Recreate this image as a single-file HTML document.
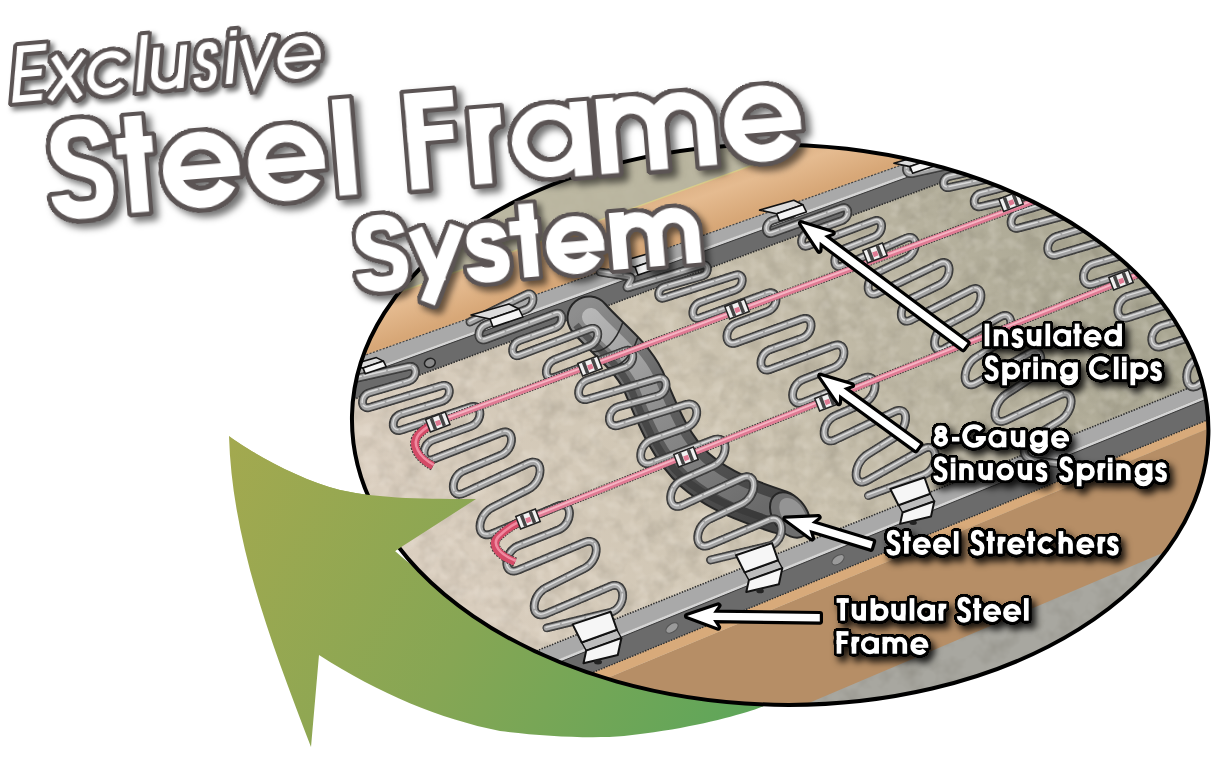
<!DOCTYPE html>
<html><head><meta charset="utf-8"><style>html,body{margin:0;padding:0;background:#fff;font-family:"Liberation Sans",sans-serif;overflow:hidden;}svg{display:block;}</style></head>
<body><svg width="1214" height="775" viewBox="0 0 1214 775">
<defs>
<clipPath id="ec"><ellipse cx="780.2" cy="424.7" rx="428.3" ry="280.1" transform="rotate(1.26 780.2 424.7)"/></clipPath>
<linearGradient id="garrow" x1="230" y1="440" x2="760" y2="720" gradientUnits="userSpaceOnUse">
<stop offset="0" stop-color="#a3a94f"/><stop offset="0.5" stop-color="#86a654"/><stop offset="1" stop-color="#5da65a"/></linearGradient>
<linearGradient id="gmat" x1="420" y1="600" x2="1100" y2="230" gradientUnits="userSpaceOnUse">
<stop offset="0" stop-color="#dbcfc0"/><stop offset="0.45" stop-color="#cdc4b1"/><stop offset="1" stop-color="#a9a692"/></linearGradient>
<linearGradient id="gwood" gradientUnits="userSpaceOnUse" x1="684" y1="184" x2="701" y2="232">
<stop offset="0" stop-color="#dcb084"/><stop offset="0.35" stop-color="#e5bb90"/><stop offset="1" stop-color="#d7a777"/></linearGradient>
<filter id="tex" x="0" y="0" width="100%" height="100%" color-interpolation-filters="sRGB">
 <feTurbulence type="fractalNoise" baseFrequency="0.05" numOctaves="3" seed="7" result="n"/>
 <feColorMatrix in="n" type="matrix" values="0 0 0 0 0.32  0 0 0 0 0.3  0 0 0 0 0.25  0.36 0 0 0 -0.15"/>
</filter>
<filter id="tex2" x="0" y="0" width="100%" height="100%" color-interpolation-filters="sRGB">
 <feTurbulence type="fractalNoise" baseFrequency="0.08" numOctaves="2" seed="3" result="n"/>
 <feColorMatrix in="n" type="matrix" values="0 0 0 0 1  0 0 0 0 0.98  0 0 0 0 0.95  0 0.5 0 0 -0.22"/>
</filter>
<filter id="ttl" filterUnits="userSpaceOnUse" x="-60" y="-160" width="900" height="240" color-interpolation-filters="sRGB">
 <feMorphology in="SourceAlpha" operator="dilate" radius="2.25" result="m0"/>
 <feGaussianBlur in="m0" stdDeviation="1.35" result="bl"/>
 <feComponentTransfer in="bl" result="dil"><feFuncA type="linear" slope="40" intercept="-1.412"/></feComponentTransfer>
 <feFlood flood-color="#5b5454" result="col"/>
 <feComposite in="col" in2="dil" operator="in" result="outl"/>
 <feGaussianBlur in="dil" stdDeviation="3.5" result="blur"/>
 <feOffset in="blur" dx="5" dy="5" result="off"/>
 <feFlood flood-color="#000" flood-opacity="0.55"/>
 <feComposite in2="off" operator="in" result="shad"/>
 <feMerge><feMergeNode in="shad"/><feMergeNode in="outl"/><feMergeNode in="SourceGraphic"/></feMerge>
</filter><filter id="ttl2" filterUnits="userSpaceOnUse" x="-60" y="-140" width="500" height="220" color-interpolation-filters="sRGB">
 <feMorphology in="SourceAlpha" operator="dilate" radius="2.00" result="m0"/>
 <feGaussianBlur in="m0" stdDeviation="1.20" result="bl"/>
 <feComponentTransfer in="bl" result="dil"><feFuncA type="linear" slope="40" intercept="-1.412"/></feComponentTransfer>
 <feFlood flood-color="#5b5454" result="col"/>
 <feComposite in="col" in2="dil" operator="in" result="outl"/>
 <feGaussianBlur in="dil" stdDeviation="3" result="blur"/>
 <feOffset in="blur" dx="4" dy="5" result="off"/>
 <feFlood flood-color="#000" flood-opacity="0.55"/>
 <feComposite in2="off" operator="in" result="shad"/>
 <feMerge><feMergeNode in="shad"/><feMergeNode in="outl"/><feMergeNode in="SourceGraphic"/></feMerge>
</filter><filter id="ttl3" filterUnits="userSpaceOnUse" x="-60" y="-120" width="450" height="180" color-interpolation-filters="sRGB">
 <feMorphology in="SourceAlpha" operator="dilate" radius="1.50" result="m0"/>
 <feGaussianBlur in="m0" stdDeviation="0.90" result="bl"/>
 <feComponentTransfer in="bl" result="dil"><feFuncA type="linear" slope="40" intercept="-1.412"/></feComponentTransfer>
 <feFlood flood-color="#5b5454" result="col"/>
 <feComposite in="col" in2="dil" operator="in" result="outl"/>
 <feGaussianBlur in="dil" stdDeviation="2.5" result="blur"/>
 <feOffset in="blur" dx="4" dy="4" result="off"/>
 <feFlood flood-color="#000" flood-opacity="0.55"/>
 <feComposite in2="off" operator="in" result="shad"/>
 <feMerge><feMergeNode in="shad"/><feMergeNode in="outl"/><feMergeNode in="SourceGraphic"/></feMerge>
</filter><filter id="lbl" filterUnits="userSpaceOnUse" x="780" y="290" width="434" height="400" color-interpolation-filters="sRGB">
 <feMorphology in="SourceAlpha" operator="dilate" radius="1.04" result="m0"/>
 <feGaussianBlur in="m0" stdDeviation="0.94" result="bl"/>
 <feComponentTransfer in="bl" result="dil"><feFuncA type="linear" slope="40" intercept="-1.412"/></feComponentTransfer>
 <feFlood flood-color="#000" result="col"/>
 <feComposite in="col" in2="dil" operator="in" result="outl"/>
 <feGaussianBlur in="dil" stdDeviation="3.5" result="blur"/>
 <feOffset in="blur" dx="4" dy="5" result="off"/>
 <feFlood flood-color="#000" flood-opacity="0.85"/>
 <feComposite in2="off" operator="in" result="shad"/>
 <feMerge><feMergeNode in="shad"/><feMergeNode in="outl"/><feMergeNode in="SourceGraphic"/></feMerge>
</filter></defs><rect width="1214" height="775" fill="#fff"/><path d="M229,436 C250,452 300,480 340,490 C380,499 430,499 476,499 L395,551 C470,620 600,640 760,660 L800,690 C780,700 760,708 747,712 C720,720 680,730 624,736 C590,739 540,736 500,731 C440,719 380,694 319,655 L311,747 C270,640 232,540 229,436 Z" fill="url(#garrow)"/><g clip-path="url(#ec)"><rect x="340" y="130" width="880" height="590" fill="url(#gmat)"/><rect x="340" y="130" width="880" height="590" filter="url(#tex)"/><rect x="340" y="130" width="880" height="590" filter="url(#tex2)"/><polygon points="330.0,100.0 1000.0,100.0 1000.0,76.1 330.0,317.3" fill="#b7b49d" opacity="0.85"/><polygon points="330.0,317.3 1000.0,76.1 1000.0,130.1 330.0,367.7" fill="url(#gwood)"/><line x1="330" y1="317.3" x2="1000" y2="76.1" stroke="#d8cc8a" stroke-width="1.5"/><polygon points="330.0,367.7 1000.0,130.1 1000.0,140.4 330.0,383.9" fill="#a9a9a9"/><polygon points="330.0,383.9 1000.0,140.4 1000.0,160.9 330.0,408.1" fill="#6b6b6b"/><line x1="330" y1="367.7" x2="1000" y2="130.1" stroke="#444" stroke-width="1.2" stroke-dasharray="2 1.5"/><line x1="330" y1="385.4" x2="1000" y2="141.9" stroke="#d4d4d4" stroke-width="3"/><line x1="330" y1="387.1" x2="1000" y2="143.6" stroke="#3a3a3a" stroke-width="1"/><line x1="330" y1="408.1" x2="1000" y2="160.9" stroke="#2a2a2a" stroke-width="1.6" stroke-dasharray="1.4 1.4"/><ellipse cx="429" cy="362" rx="5.5" ry="4.5" fill="#8a8a8a" stroke="#222" stroke-width="1.5" transform="rotate(-20 432 360)"/><polygon points="500.0,722.5 1220.0,423.7 1220.0,800.0 500.0,800.0" fill="#b68e66"/><polygon points="500.0,710.6 1220.0,414.8 1220.0,423.7 500.0,722.5" fill="#d8aa7a"/><polygon points="500.0,833.9 1220.0,528.7 1220.0,800.0 500.0,800.0" fill="#a8a7a0"/><clipPath id="flc"><polygon points="500.0,833.9 1220.0,528.7 1220.0,800.0 500.0,800.0"/></clipPath><g clip-path="url(#flc)"><rect x="780" y="500" width="440" height="250" filter="url(#tex)"/></g><polygon points="500.0,665.6 1220.0,375.4 1220.0,390.4 500.0,683.2" fill="#a9a9a9"/><polygon points="500.0,683.2 1220.0,390.4 1220.0,414.8 500.0,710.6" fill="#6b6b6b"/><line x1="500" y1="684.7" x2="1220" y2="391.9" stroke="#d4d4d4" stroke-width="3"/><line x1="500" y1="686.4" x2="1220" y2="393.6" stroke="#3a3a3a" stroke-width="1"/><line x1="500" y1="665.6" x2="1220" y2="375.4" stroke="#2a2a2a" stroke-width="1.6" stroke-dasharray="1.4 1.4"/><line x1="500" y1="710.6" x2="1220" y2="414.8" stroke="#2a2a2a" stroke-width="1.4" stroke-dasharray="1.4 1.4"/><ellipse cx="672" cy="628.0" rx="4" ry="7" fill="#9a9a9a" stroke="#555" stroke-width="1" transform="rotate(55 672 628.0)"/><ellipse cx="838" cy="559.8" rx="4" ry="7" fill="#9a9a9a" stroke="#555" stroke-width="1" transform="rotate(55 838 559.8)"/><linearGradient id="gt1" gradientUnits="userSpaceOnUse" x1="590" y1="300" x2="760" y2="510"><stop offset="0" stop-color="#8e8e8e"/><stop offset="0.5" stop-color="#5e5e5e"/><stop offset="1" stop-color="#444"/></linearGradient><linearGradient id="gt2" gradientUnits="userSpaceOnUse" x1="590" y1="300" x2="760" y2="510"><stop offset="0" stop-color="#bababa"/><stop offset="0.5" stop-color="#8c8c8c"/><stop offset="1" stop-color="#6a6a6a"/></linearGradient><path d="M589,318 C604,336 630,354 643,380 C656,410 668,445 695,470 C720,492 750,502 780,512" fill="none" stroke="#262626" stroke-width="45" stroke-linecap="round"/><path d="M589,318 C604,336 630,354 643,380 C656,410 668,445 695,470 C720,492 750,502 780,512" fill="none" stroke="url(#gt1)" stroke-width="41" stroke-linecap="round"/><path d="M589,318 C604,336 630,354 643,380 C656,410 668,445 695,470 C720,492 750,502 780,512" fill="none" stroke="url(#gt2)" stroke-width="18" stroke-linecap="round" transform="translate(2,-1)"/><path d="M589,318 C604,336 630,354 643,380 C656,410 668,445 695,470 C720,492 750,502 780,512" fill="none" stroke="#333" stroke-width="7" transform="translate(-13,7)" opacity="0.55"/><path d="M592,352 Q612,352 623,322" fill="none" stroke="#2a2a2a" stroke-width="1.6"/><path d="M607,368 Q628,367 638,337" fill="none" stroke="#2a2a2a" stroke-width="1.6"/><ellipse cx="790" cy="515" rx="17" ry="25" fill="#6e6e6e" stroke="#262626" stroke-width="2" transform="rotate(-35 790 515)"/><ellipse cx="793" cy="514" rx="11" ry="18" fill="#949494" transform="rotate(-35 793 514)"/><g fill="none" stroke-linecap="round" stroke-linejoin="round"><g stroke="#333" stroke-width="8.8" stroke-dasharray="1.6 1.2"><path d="M340.0,382.0 L408.1,366.6 C417.9,364.4 417.8,378.6 408.1,381.4 L369.7,392.6 C360.0,395.4 360.1,410.3 369.7,407.4 L441.6,385.7 C451.9,382.6 451.9,398.3 441.6,401.5 L401.1,413.9 C390.6,417.1 390.6,433.6 401.1,430.1 L470.6,407.0 C483.1,402.9 483.0,421.9 470.6,426.4 L433.2,439.9 C420.8,444.4 420.9,464.1 433.2,459.3 L500.9,432.8 C515.1,427.3 514.9,449.3 500.9,455.2 L463.7,470.8 C449.7,476.7 449.9,499.5 463.7,493.2 L528.1,463.4 C544.2,456.0 543.9,481.4 528.1,489.4 L492.0,507.7 C476.2,515.7 475.7,540.5 492.0,533.7 L558.1,506.0 C573.2,499.6 573.3,524.0 558.1,530.0 L518.2,545.9 C502.9,552.0 503.0,576.4 518.2,570.1 L584.2,542.5 C600.5,535.7 600.0,560.5 584.2,568.5 L546.2,587.7 C530.4,595.7 529.9,620.6 546.2,613.7 L610.1,586.4 C626.4,579.5 627.3,608.2 610.1,612.4 L546.5,628.0"/><path d="M470.0,322.0 L526.1,294.6 C535.1,290.2 535.5,305.8 526.1,309.4 L485.9,324.6 C476.5,328.2 476.5,342.9 485.9,339.4 L555.1,313.7 C564.0,310.3 564.1,324.5 555.1,327.7 L519.7,340.4 C510.2,343.8 510.3,358.7 519.7,355.2 L589.7,328.9 C600.5,324.9 600.5,341.7 589.7,345.9 L554.7,359.6 C543.6,364.0 543.5,381.4 554.7,377.2 L624.9,350.8 C635.3,346.9 635.5,363.6 624.9,367.2 L588.0,379.7 C575.5,384.0 575.4,402.8 588.0,399.1 L657.4,378.5 C668.9,375.1 669.0,393.0 657.4,396.1 L618.5,406.7 C606.3,410.0 606.4,429.0 618.5,425.3 L685.5,404.6 C700.6,400.0 700.4,422.6 685.5,427.8 L651.9,439.6 C636.9,444.9 637.0,468.6 651.9,463.0 L712.9,440.0 C729.4,433.8 729.0,458.8 712.9,466.0 L682.5,479.6 C666.6,486.7 666.7,512.4 682.5,505.2 L741.8,478.0 C757.9,470.6 757.8,496.5 741.8,504.0 L709.8,519.0 C693.8,526.5 693.5,551.9 709.8,545.0 L768.9,520.0 C785.2,513.1 786.1,541.9 768.9,546.0 L710.5,560.0"/><path d="M600.0,272.0 L629.0,276.5 C636.4,277.6 621.8,289.7 629.0,287.5 L702.0,265.1 C709.2,262.9 709.2,274.0 702.0,276.1 L664.0,287.0 C656.8,289.1 656.9,300.3 664.0,298.0 L735.1,275.2 C744.7,272.1 744.6,286.7 735.1,290.0 L700.3,302.2 C690.3,305.7 690.3,321.5 700.3,317.8 L767.4,293.3 C779.0,289.1 779.0,307.1 767.4,311.5 L736.3,323.2 C723.8,327.9 723.8,347.3 736.3,342.8 L801.8,319.0 C814.2,314.6 814.2,334.0 801.8,338.4 L770.4,349.5 C757.7,354.0 757.8,374.0 770.4,369.3 L833.5,345.7 C847.5,340.5 847.4,362.3 833.5,367.7 L803.5,379.3 C788.9,385.0 789.0,408.1 803.5,402.3 L863.2,378.2 C879.1,371.9 878.9,396.5 863.2,403.4 L835.2,415.7 C820.3,422.3 820.5,446.7 835.2,439.7 L894.0,411.8 C910.0,404.2 909.0,428.4 894.0,437.8 L867.5,454.4 C852.5,463.8 852.1,489.0 867.5,480.4 L923.5,449.0 C938.9,440.4 940.1,468.8 923.5,475.0 L868.0,495.7"/><path d="M792.0,214.0 L772.5,220.5 C764.4,223.2 764.4,235.9 772.5,233.1 L841.7,208.1 C849.8,205.3 849.8,217.8 841.7,220.7 L807.9,232.6 C799.4,235.6 799.5,248.9 807.9,245.8 L874.0,221.0 C884.2,217.2 884.1,233.0 874.0,237.0 L842.5,249.6 C832.1,253.7 832.3,270.5 842.5,266.0 L905.9,238.3 C918.6,232.8 918.4,252.7 905.9,258.7 L877.8,272.1 C864.9,278.3 864.9,299.2 877.8,293.1 L939.3,263.6 C952.4,257.3 952.4,278.6 939.3,285.0 L911.0,298.8 C898.0,305.1 898.1,326.5 911.0,320.0 L970.7,289.8 C984.4,282.9 984.3,305.3 970.7,312.4 L944.6,326.1 C931.1,333.2 931.4,356.1 944.6,348.5 L999.7,317.2 C1014.8,308.6 1014.5,333.7 999.7,342.8 L976.5,357.0 C961.4,366.2 961.1,391.7 976.5,383.0 L1029.5,353.0 C1044.9,344.3 1044.3,369.3 1029.5,379.0 L1006.5,394.0 C991.7,403.7 990.5,427.5 1006.5,420.0 L1059.5,395.0 C1075.5,387.5 1074.6,411.8 1059.5,421.0 L1036.5,435.0 C1021.4,444.2 1018.9,458.9 1036.5,461.0 L1062.0,464.0"/><path d="M925.0,160.0 L912.0,162.5 C904.7,163.9 904.7,175.1 912.0,173.5 L984.0,157.8 C991.3,156.2 991.3,167.2 984.0,168.8 L949.0,176.5 C941.7,178.1 941.7,189.1 949.0,187.5 L1021.0,171.8 C1028.3,170.2 1028.2,180.9 1021.0,182.8 L980.7,193.4 C972.0,195.7 972.0,208.6 980.7,206.6 L1051.1,190.3 C1059.0,188.5 1058.9,200.0 1051.1,202.3 L1018.9,212.0 C1008.5,215.1 1008.4,230.9 1018.9,228.0 L1085.1,210.3 C1096.7,207.2 1096.6,224.5 1085.1,227.9 L1056.8,236.3 C1044.7,239.9 1044.7,258.5 1056.8,254.9 L1120.5,235.9 C1133.5,232.0 1133.6,252.2 1120.5,255.9 L1093.3,263.7 C1080.1,267.5 1080.2,288.2 1093.3,283.9 L1154.0,264.1 C1169.8,258.9 1169.9,283.7 1154.0,288.5 L1128.2,296.2 C1114.3,300.4 1114.4,322.1 1128.2,317.6 L1190.3,297.2 C1203.5,292.9 1203.7,313.9 1190.3,317.6 L1162.0,325.5 C1148.3,329.4 1148.4,350.9 1162.0,346.5 L1221.5,326.9 C1238.3,321.4 1238.6,348.4 1221.5,352.9 L1198.5,359.0 C1181.4,363.5 1184.2,395.4 1198.5,385.0 L1260.0,340.0"/></g><g stroke="#454545" stroke-width="7.6"><path d="M340.0,382.0 L408.1,366.6 C417.9,364.4 417.8,378.6 408.1,381.4 L369.7,392.6 C360.0,395.4 360.1,410.3 369.7,407.4 L441.6,385.7 C451.9,382.6 451.9,398.3 441.6,401.5 L401.1,413.9 C390.6,417.1 390.6,433.6 401.1,430.1 L470.6,407.0 C483.1,402.9 483.0,421.9 470.6,426.4 L433.2,439.9 C420.8,444.4 420.9,464.1 433.2,459.3 L500.9,432.8 C515.1,427.3 514.9,449.3 500.9,455.2 L463.7,470.8 C449.7,476.7 449.9,499.5 463.7,493.2 L528.1,463.4 C544.2,456.0 543.9,481.4 528.1,489.4 L492.0,507.7 C476.2,515.7 475.7,540.5 492.0,533.7 L558.1,506.0 C573.2,499.6 573.3,524.0 558.1,530.0 L518.2,545.9 C502.9,552.0 503.0,576.4 518.2,570.1 L584.2,542.5 C600.5,535.7 600.0,560.5 584.2,568.5 L546.2,587.7 C530.4,595.7 529.9,620.6 546.2,613.7 L610.1,586.4 C626.4,579.5 627.3,608.2 610.1,612.4 L546.5,628.0"/><path d="M470.0,322.0 L526.1,294.6 C535.1,290.2 535.5,305.8 526.1,309.4 L485.9,324.6 C476.5,328.2 476.5,342.9 485.9,339.4 L555.1,313.7 C564.0,310.3 564.1,324.5 555.1,327.7 L519.7,340.4 C510.2,343.8 510.3,358.7 519.7,355.2 L589.7,328.9 C600.5,324.9 600.5,341.7 589.7,345.9 L554.7,359.6 C543.6,364.0 543.5,381.4 554.7,377.2 L624.9,350.8 C635.3,346.9 635.5,363.6 624.9,367.2 L588.0,379.7 C575.5,384.0 575.4,402.8 588.0,399.1 L657.4,378.5 C668.9,375.1 669.0,393.0 657.4,396.1 L618.5,406.7 C606.3,410.0 606.4,429.0 618.5,425.3 L685.5,404.6 C700.6,400.0 700.4,422.6 685.5,427.8 L651.9,439.6 C636.9,444.9 637.0,468.6 651.9,463.0 L712.9,440.0 C729.4,433.8 729.0,458.8 712.9,466.0 L682.5,479.6 C666.6,486.7 666.7,512.4 682.5,505.2 L741.8,478.0 C757.9,470.6 757.8,496.5 741.8,504.0 L709.8,519.0 C693.8,526.5 693.5,551.9 709.8,545.0 L768.9,520.0 C785.2,513.1 786.1,541.9 768.9,546.0 L710.5,560.0"/><path d="M600.0,272.0 L629.0,276.5 C636.4,277.6 621.8,289.7 629.0,287.5 L702.0,265.1 C709.2,262.9 709.2,274.0 702.0,276.1 L664.0,287.0 C656.8,289.1 656.9,300.3 664.0,298.0 L735.1,275.2 C744.7,272.1 744.6,286.7 735.1,290.0 L700.3,302.2 C690.3,305.7 690.3,321.5 700.3,317.8 L767.4,293.3 C779.0,289.1 779.0,307.1 767.4,311.5 L736.3,323.2 C723.8,327.9 723.8,347.3 736.3,342.8 L801.8,319.0 C814.2,314.6 814.2,334.0 801.8,338.4 L770.4,349.5 C757.7,354.0 757.8,374.0 770.4,369.3 L833.5,345.7 C847.5,340.5 847.4,362.3 833.5,367.7 L803.5,379.3 C788.9,385.0 789.0,408.1 803.5,402.3 L863.2,378.2 C879.1,371.9 878.9,396.5 863.2,403.4 L835.2,415.7 C820.3,422.3 820.5,446.7 835.2,439.7 L894.0,411.8 C910.0,404.2 909.0,428.4 894.0,437.8 L867.5,454.4 C852.5,463.8 852.1,489.0 867.5,480.4 L923.5,449.0 C938.9,440.4 940.1,468.8 923.5,475.0 L868.0,495.7"/><path d="M792.0,214.0 L772.5,220.5 C764.4,223.2 764.4,235.9 772.5,233.1 L841.7,208.1 C849.8,205.3 849.8,217.8 841.7,220.7 L807.9,232.6 C799.4,235.6 799.5,248.9 807.9,245.8 L874.0,221.0 C884.2,217.2 884.1,233.0 874.0,237.0 L842.5,249.6 C832.1,253.7 832.3,270.5 842.5,266.0 L905.9,238.3 C918.6,232.8 918.4,252.7 905.9,258.7 L877.8,272.1 C864.9,278.3 864.9,299.2 877.8,293.1 L939.3,263.6 C952.4,257.3 952.4,278.6 939.3,285.0 L911.0,298.8 C898.0,305.1 898.1,326.5 911.0,320.0 L970.7,289.8 C984.4,282.9 984.3,305.3 970.7,312.4 L944.6,326.1 C931.1,333.2 931.4,356.1 944.6,348.5 L999.7,317.2 C1014.8,308.6 1014.5,333.7 999.7,342.8 L976.5,357.0 C961.4,366.2 961.1,391.7 976.5,383.0 L1029.5,353.0 C1044.9,344.3 1044.3,369.3 1029.5,379.0 L1006.5,394.0 C991.7,403.7 990.5,427.5 1006.5,420.0 L1059.5,395.0 C1075.5,387.5 1074.6,411.8 1059.5,421.0 L1036.5,435.0 C1021.4,444.2 1018.9,458.9 1036.5,461.0 L1062.0,464.0"/><path d="M925.0,160.0 L912.0,162.5 C904.7,163.9 904.7,175.1 912.0,173.5 L984.0,157.8 C991.3,156.2 991.3,167.2 984.0,168.8 L949.0,176.5 C941.7,178.1 941.7,189.1 949.0,187.5 L1021.0,171.8 C1028.3,170.2 1028.2,180.9 1021.0,182.8 L980.7,193.4 C972.0,195.7 972.0,208.6 980.7,206.6 L1051.1,190.3 C1059.0,188.5 1058.9,200.0 1051.1,202.3 L1018.9,212.0 C1008.5,215.1 1008.4,230.9 1018.9,228.0 L1085.1,210.3 C1096.7,207.2 1096.6,224.5 1085.1,227.9 L1056.8,236.3 C1044.7,239.9 1044.7,258.5 1056.8,254.9 L1120.5,235.9 C1133.5,232.0 1133.6,252.2 1120.5,255.9 L1093.3,263.7 C1080.1,267.5 1080.2,288.2 1093.3,283.9 L1154.0,264.1 C1169.8,258.9 1169.9,283.7 1154.0,288.5 L1128.2,296.2 C1114.3,300.4 1114.4,322.1 1128.2,317.6 L1190.3,297.2 C1203.5,292.9 1203.7,313.9 1190.3,317.6 L1162.0,325.5 C1148.3,329.4 1148.4,350.9 1162.0,346.5 L1221.5,326.9 C1238.3,321.4 1238.6,348.4 1221.5,352.9 L1198.5,359.0 C1181.4,363.5 1184.2,395.4 1198.5,385.0 L1260.0,340.0"/></g><g stroke="#a4a4a4" stroke-width="5.4"><path d="M340.0,382.0 L408.1,366.6 C417.9,364.4 417.8,378.6 408.1,381.4 L369.7,392.6 C360.0,395.4 360.1,410.3 369.7,407.4 L441.6,385.7 C451.9,382.6 451.9,398.3 441.6,401.5 L401.1,413.9 C390.6,417.1 390.6,433.6 401.1,430.1 L470.6,407.0 C483.1,402.9 483.0,421.9 470.6,426.4 L433.2,439.9 C420.8,444.4 420.9,464.1 433.2,459.3 L500.9,432.8 C515.1,427.3 514.9,449.3 500.9,455.2 L463.7,470.8 C449.7,476.7 449.9,499.5 463.7,493.2 L528.1,463.4 C544.2,456.0 543.9,481.4 528.1,489.4 L492.0,507.7 C476.2,515.7 475.7,540.5 492.0,533.7 L558.1,506.0 C573.2,499.6 573.3,524.0 558.1,530.0 L518.2,545.9 C502.9,552.0 503.0,576.4 518.2,570.1 L584.2,542.5 C600.5,535.7 600.0,560.5 584.2,568.5 L546.2,587.7 C530.4,595.7 529.9,620.6 546.2,613.7 L610.1,586.4 C626.4,579.5 627.3,608.2 610.1,612.4 L546.5,628.0"/><path d="M470.0,322.0 L526.1,294.6 C535.1,290.2 535.5,305.8 526.1,309.4 L485.9,324.6 C476.5,328.2 476.5,342.9 485.9,339.4 L555.1,313.7 C564.0,310.3 564.1,324.5 555.1,327.7 L519.7,340.4 C510.2,343.8 510.3,358.7 519.7,355.2 L589.7,328.9 C600.5,324.9 600.5,341.7 589.7,345.9 L554.7,359.6 C543.6,364.0 543.5,381.4 554.7,377.2 L624.9,350.8 C635.3,346.9 635.5,363.6 624.9,367.2 L588.0,379.7 C575.5,384.0 575.4,402.8 588.0,399.1 L657.4,378.5 C668.9,375.1 669.0,393.0 657.4,396.1 L618.5,406.7 C606.3,410.0 606.4,429.0 618.5,425.3 L685.5,404.6 C700.6,400.0 700.4,422.6 685.5,427.8 L651.9,439.6 C636.9,444.9 637.0,468.6 651.9,463.0 L712.9,440.0 C729.4,433.8 729.0,458.8 712.9,466.0 L682.5,479.6 C666.6,486.7 666.7,512.4 682.5,505.2 L741.8,478.0 C757.9,470.6 757.8,496.5 741.8,504.0 L709.8,519.0 C693.8,526.5 693.5,551.9 709.8,545.0 L768.9,520.0 C785.2,513.1 786.1,541.9 768.9,546.0 L710.5,560.0"/><path d="M600.0,272.0 L629.0,276.5 C636.4,277.6 621.8,289.7 629.0,287.5 L702.0,265.1 C709.2,262.9 709.2,274.0 702.0,276.1 L664.0,287.0 C656.8,289.1 656.9,300.3 664.0,298.0 L735.1,275.2 C744.7,272.1 744.6,286.7 735.1,290.0 L700.3,302.2 C690.3,305.7 690.3,321.5 700.3,317.8 L767.4,293.3 C779.0,289.1 779.0,307.1 767.4,311.5 L736.3,323.2 C723.8,327.9 723.8,347.3 736.3,342.8 L801.8,319.0 C814.2,314.6 814.2,334.0 801.8,338.4 L770.4,349.5 C757.7,354.0 757.8,374.0 770.4,369.3 L833.5,345.7 C847.5,340.5 847.4,362.3 833.5,367.7 L803.5,379.3 C788.9,385.0 789.0,408.1 803.5,402.3 L863.2,378.2 C879.1,371.9 878.9,396.5 863.2,403.4 L835.2,415.7 C820.3,422.3 820.5,446.7 835.2,439.7 L894.0,411.8 C910.0,404.2 909.0,428.4 894.0,437.8 L867.5,454.4 C852.5,463.8 852.1,489.0 867.5,480.4 L923.5,449.0 C938.9,440.4 940.1,468.8 923.5,475.0 L868.0,495.7"/><path d="M792.0,214.0 L772.5,220.5 C764.4,223.2 764.4,235.9 772.5,233.1 L841.7,208.1 C849.8,205.3 849.8,217.8 841.7,220.7 L807.9,232.6 C799.4,235.6 799.5,248.9 807.9,245.8 L874.0,221.0 C884.2,217.2 884.1,233.0 874.0,237.0 L842.5,249.6 C832.1,253.7 832.3,270.5 842.5,266.0 L905.9,238.3 C918.6,232.8 918.4,252.7 905.9,258.7 L877.8,272.1 C864.9,278.3 864.9,299.2 877.8,293.1 L939.3,263.6 C952.4,257.3 952.4,278.6 939.3,285.0 L911.0,298.8 C898.0,305.1 898.1,326.5 911.0,320.0 L970.7,289.8 C984.4,282.9 984.3,305.3 970.7,312.4 L944.6,326.1 C931.1,333.2 931.4,356.1 944.6,348.5 L999.7,317.2 C1014.8,308.6 1014.5,333.7 999.7,342.8 L976.5,357.0 C961.4,366.2 961.1,391.7 976.5,383.0 L1029.5,353.0 C1044.9,344.3 1044.3,369.3 1029.5,379.0 L1006.5,394.0 C991.7,403.7 990.5,427.5 1006.5,420.0 L1059.5,395.0 C1075.5,387.5 1074.6,411.8 1059.5,421.0 L1036.5,435.0 C1021.4,444.2 1018.9,458.9 1036.5,461.0 L1062.0,464.0"/><path d="M925.0,160.0 L912.0,162.5 C904.7,163.9 904.7,175.1 912.0,173.5 L984.0,157.8 C991.3,156.2 991.3,167.2 984.0,168.8 L949.0,176.5 C941.7,178.1 941.7,189.1 949.0,187.5 L1021.0,171.8 C1028.3,170.2 1028.2,180.9 1021.0,182.8 L980.7,193.4 C972.0,195.7 972.0,208.6 980.7,206.6 L1051.1,190.3 C1059.0,188.5 1058.9,200.0 1051.1,202.3 L1018.9,212.0 C1008.5,215.1 1008.4,230.9 1018.9,228.0 L1085.1,210.3 C1096.7,207.2 1096.6,224.5 1085.1,227.9 L1056.8,236.3 C1044.7,239.9 1044.7,258.5 1056.8,254.9 L1120.5,235.9 C1133.5,232.0 1133.6,252.2 1120.5,255.9 L1093.3,263.7 C1080.1,267.5 1080.2,288.2 1093.3,283.9 L1154.0,264.1 C1169.8,258.9 1169.9,283.7 1154.0,288.5 L1128.2,296.2 C1114.3,300.4 1114.4,322.1 1128.2,317.6 L1190.3,297.2 C1203.5,292.9 1203.7,313.9 1190.3,317.6 L1162.0,325.5 C1148.3,329.4 1148.4,350.9 1162.0,346.5 L1221.5,326.9 C1238.3,321.4 1238.6,348.4 1221.5,352.9 L1198.5,359.0 C1181.4,363.5 1184.2,395.4 1198.5,385.0 L1260.0,340.0"/></g><g stroke="#dadada" stroke-width="1.5" stroke-dasharray="22 3" transform="translate(-0.3,-0.8)"><path d="M340.0,382.0 L408.1,366.6 C417.9,364.4 417.8,378.6 408.1,381.4 L369.7,392.6 C360.0,395.4 360.1,410.3 369.7,407.4 L441.6,385.7 C451.9,382.6 451.9,398.3 441.6,401.5 L401.1,413.9 C390.6,417.1 390.6,433.6 401.1,430.1 L470.6,407.0 C483.1,402.9 483.0,421.9 470.6,426.4 L433.2,439.9 C420.8,444.4 420.9,464.1 433.2,459.3 L500.9,432.8 C515.1,427.3 514.9,449.3 500.9,455.2 L463.7,470.8 C449.7,476.7 449.9,499.5 463.7,493.2 L528.1,463.4 C544.2,456.0 543.9,481.4 528.1,489.4 L492.0,507.7 C476.2,515.7 475.7,540.5 492.0,533.7 L558.1,506.0 C573.2,499.6 573.3,524.0 558.1,530.0 L518.2,545.9 C502.9,552.0 503.0,576.4 518.2,570.1 L584.2,542.5 C600.5,535.7 600.0,560.5 584.2,568.5 L546.2,587.7 C530.4,595.7 529.9,620.6 546.2,613.7 L610.1,586.4 C626.4,579.5 627.3,608.2 610.1,612.4 L546.5,628.0"/><path d="M470.0,322.0 L526.1,294.6 C535.1,290.2 535.5,305.8 526.1,309.4 L485.9,324.6 C476.5,328.2 476.5,342.9 485.9,339.4 L555.1,313.7 C564.0,310.3 564.1,324.5 555.1,327.7 L519.7,340.4 C510.2,343.8 510.3,358.7 519.7,355.2 L589.7,328.9 C600.5,324.9 600.5,341.7 589.7,345.9 L554.7,359.6 C543.6,364.0 543.5,381.4 554.7,377.2 L624.9,350.8 C635.3,346.9 635.5,363.6 624.9,367.2 L588.0,379.7 C575.5,384.0 575.4,402.8 588.0,399.1 L657.4,378.5 C668.9,375.1 669.0,393.0 657.4,396.1 L618.5,406.7 C606.3,410.0 606.4,429.0 618.5,425.3 L685.5,404.6 C700.6,400.0 700.4,422.6 685.5,427.8 L651.9,439.6 C636.9,444.9 637.0,468.6 651.9,463.0 L712.9,440.0 C729.4,433.8 729.0,458.8 712.9,466.0 L682.5,479.6 C666.6,486.7 666.7,512.4 682.5,505.2 L741.8,478.0 C757.9,470.6 757.8,496.5 741.8,504.0 L709.8,519.0 C693.8,526.5 693.5,551.9 709.8,545.0 L768.9,520.0 C785.2,513.1 786.1,541.9 768.9,546.0 L710.5,560.0"/><path d="M600.0,272.0 L629.0,276.5 C636.4,277.6 621.8,289.7 629.0,287.5 L702.0,265.1 C709.2,262.9 709.2,274.0 702.0,276.1 L664.0,287.0 C656.8,289.1 656.9,300.3 664.0,298.0 L735.1,275.2 C744.7,272.1 744.6,286.7 735.1,290.0 L700.3,302.2 C690.3,305.7 690.3,321.5 700.3,317.8 L767.4,293.3 C779.0,289.1 779.0,307.1 767.4,311.5 L736.3,323.2 C723.8,327.9 723.8,347.3 736.3,342.8 L801.8,319.0 C814.2,314.6 814.2,334.0 801.8,338.4 L770.4,349.5 C757.7,354.0 757.8,374.0 770.4,369.3 L833.5,345.7 C847.5,340.5 847.4,362.3 833.5,367.7 L803.5,379.3 C788.9,385.0 789.0,408.1 803.5,402.3 L863.2,378.2 C879.1,371.9 878.9,396.5 863.2,403.4 L835.2,415.7 C820.3,422.3 820.5,446.7 835.2,439.7 L894.0,411.8 C910.0,404.2 909.0,428.4 894.0,437.8 L867.5,454.4 C852.5,463.8 852.1,489.0 867.5,480.4 L923.5,449.0 C938.9,440.4 940.1,468.8 923.5,475.0 L868.0,495.7"/><path d="M792.0,214.0 L772.5,220.5 C764.4,223.2 764.4,235.9 772.5,233.1 L841.7,208.1 C849.8,205.3 849.8,217.8 841.7,220.7 L807.9,232.6 C799.4,235.6 799.5,248.9 807.9,245.8 L874.0,221.0 C884.2,217.2 884.1,233.0 874.0,237.0 L842.5,249.6 C832.1,253.7 832.3,270.5 842.5,266.0 L905.9,238.3 C918.6,232.8 918.4,252.7 905.9,258.7 L877.8,272.1 C864.9,278.3 864.9,299.2 877.8,293.1 L939.3,263.6 C952.4,257.3 952.4,278.6 939.3,285.0 L911.0,298.8 C898.0,305.1 898.1,326.5 911.0,320.0 L970.7,289.8 C984.4,282.9 984.3,305.3 970.7,312.4 L944.6,326.1 C931.1,333.2 931.4,356.1 944.6,348.5 L999.7,317.2 C1014.8,308.6 1014.5,333.7 999.7,342.8 L976.5,357.0 C961.4,366.2 961.1,391.7 976.5,383.0 L1029.5,353.0 C1044.9,344.3 1044.3,369.3 1029.5,379.0 L1006.5,394.0 C991.7,403.7 990.5,427.5 1006.5,420.0 L1059.5,395.0 C1075.5,387.5 1074.6,411.8 1059.5,421.0 L1036.5,435.0 C1021.4,444.2 1018.9,458.9 1036.5,461.0 L1062.0,464.0"/><path d="M925.0,160.0 L912.0,162.5 C904.7,163.9 904.7,175.1 912.0,173.5 L984.0,157.8 C991.3,156.2 991.3,167.2 984.0,168.8 L949.0,176.5 C941.7,178.1 941.7,189.1 949.0,187.5 L1021.0,171.8 C1028.3,170.2 1028.2,180.9 1021.0,182.8 L980.7,193.4 C972.0,195.7 972.0,208.6 980.7,206.6 L1051.1,190.3 C1059.0,188.5 1058.9,200.0 1051.1,202.3 L1018.9,212.0 C1008.5,215.1 1008.4,230.9 1018.9,228.0 L1085.1,210.3 C1096.7,207.2 1096.6,224.5 1085.1,227.9 L1056.8,236.3 C1044.7,239.9 1044.7,258.5 1056.8,254.9 L1120.5,235.9 C1133.5,232.0 1133.6,252.2 1120.5,255.9 L1093.3,263.7 C1080.1,267.5 1080.2,288.2 1093.3,283.9 L1154.0,264.1 C1169.8,258.9 1169.9,283.7 1154.0,288.5 L1128.2,296.2 C1114.3,300.4 1114.4,322.1 1128.2,317.6 L1190.3,297.2 C1203.5,292.9 1203.7,313.9 1190.3,317.6 L1162.0,325.5 C1148.3,329.4 1148.4,350.9 1162.0,346.5 L1221.5,326.9 C1238.3,321.4 1238.6,348.4 1221.5,352.9 L1198.5,359.0 C1181.4,363.5 1184.2,395.4 1198.5,385.0 L1260.0,340.0"/></g></g><path d="M433,466 C418,458 410,445 418,435 C425,428 432,424 438,422 L1250,121" fill="none" stroke="#3a3a3a" stroke-width="7.6" stroke-dasharray="1.6 1.2"/><path d="M433,466 C418,458 410,445 418,435 C425,428 432,424 438,422 L1250,121" fill="none" stroke="#e07a93" stroke-width="5.8"/><path d="M433,466 C418,458 410,445 418,435 C425,428 432,424 438,422 L1250,121" fill="none" stroke="#f5b4c3" stroke-width="2" transform="translate(0,-0.8)"/><path d="M515,562 C498,555 490,545 498,537 C505,530 515,523 528,519 L1250,230" fill="none" stroke="#3a3a3a" stroke-width="7.6" stroke-dasharray="1.6 1.2"/><path d="M515,562 C498,555 490,545 498,537 C505,530 515,523 528,519 L1250,230" fill="none" stroke="#e07a93" stroke-width="5.8"/><path d="M515,562 C498,555 490,545 498,537 C505,530 515,523 528,519 L1250,230" fill="none" stroke="#f5b4c3" stroke-width="2" transform="translate(0,-0.8)"/><path d="M433,466 C418,458 410,445 418,435 C425,428 432,424 438,422" fill="none" stroke="#3a3a3a" stroke-width="9.5" stroke-dasharray="1.6 1.2"/><path d="M433,466 C418,458 410,445 418,435 C425,428 432,424 438,422" fill="none" stroke="#d44a66" stroke-width="7.8"/><path d="M433,466 C418,458 410,445 418,435 C425,428 432,424 438,422" fill="none" stroke="#f08aa0" stroke-width="2.5" transform="translate(1,-1)"/><path d="M515,562 C498,555 490,545 498,537 C505,530 515,523 528,519" fill="none" stroke="#3a3a3a" stroke-width="9.5" stroke-dasharray="1.6 1.2"/><path d="M515,562 C498,555 490,545 498,537 C505,530 515,523 528,519" fill="none" stroke="#d44a66" stroke-width="7.8"/><path d="M515,562 C498,555 490,545 498,537 C505,530 515,523 528,519" fill="none" stroke="#f08aa0" stroke-width="2.5" transform="translate(1,-1)"/><g transform="translate(437.8,422) rotate(-21)"><rect x="-10.5" y="-6.75" width="21" height="13.5" fill="#f0f0f0" stroke="#222" stroke-width="1.5"/><rect x="-6.5" y="-5.95" width="3.5" height="11.9" fill="#444"/><rect x="3.0" y="-5.95" width="3.5" height="11.9" fill="#444"/><rect x="-2.5" y="-1.5" width="5" height="5" fill="#e07a93"/></g><g transform="translate(528,519) rotate(-21)"><rect x="-10.5" y="-6.75" width="21" height="13.5" fill="#f0f0f0" stroke="#222" stroke-width="1.5"/><rect x="-6.5" y="-5.95" width="3.5" height="11.9" fill="#444"/><rect x="3.0" y="-5.95" width="3.5" height="11.9" fill="#444"/><rect x="-2.5" y="-1.5" width="5" height="5" fill="#e07a93"/></g><g transform="translate(590,366) rotate(-21)"><rect x="-10.5" y="-6.75" width="21" height="13.5" fill="#f0f0f0" stroke="#222" stroke-width="1.5"/><rect x="-6.5" y="-5.95" width="3.5" height="11.9" fill="#444"/><rect x="3.0" y="-5.95" width="3.5" height="11.9" fill="#444"/><rect x="-2.5" y="-1.5" width="5" height="5" fill="#e07a93"/></g><g transform="translate(686,457) rotate(-21)"><rect x="-10.5" y="-6.75" width="21" height="13.5" fill="#f0f0f0" stroke="#222" stroke-width="1.5"/><rect x="-6.5" y="-5.95" width="3.5" height="11.9" fill="#444"/><rect x="3.0" y="-5.95" width="3.5" height="11.9" fill="#444"/><rect x="-2.5" y="-1.5" width="5" height="5" fill="#e07a93"/></g><g transform="translate(737,309) rotate(-21)"><rect x="-10.5" y="-6.75" width="21" height="13.5" fill="#f0f0f0" stroke="#222" stroke-width="1.5"/><rect x="-6.5" y="-5.95" width="3.5" height="11.9" fill="#444"/><rect x="3.0" y="-5.95" width="3.5" height="11.9" fill="#444"/><rect x="-2.5" y="-1.5" width="5" height="5" fill="#e07a93"/></g><g transform="translate(827,401) rotate(-21)"><rect x="-10.5" y="-6.75" width="21" height="13.5" fill="#f0f0f0" stroke="#222" stroke-width="1.5"/><rect x="-6.5" y="-5.95" width="3.5" height="11.9" fill="#444"/><rect x="3.0" y="-5.95" width="3.5" height="11.9" fill="#444"/><rect x="-2.5" y="-1.5" width="5" height="5" fill="#e07a93"/></g><g transform="translate(875,253) rotate(-21)"><rect x="-10.5" y="-6.75" width="21" height="13.5" fill="#f0f0f0" stroke="#222" stroke-width="1.5"/><rect x="-6.5" y="-5.95" width="3.5" height="11.9" fill="#444"/><rect x="3.0" y="-5.95" width="3.5" height="11.9" fill="#444"/><rect x="-2.5" y="-1.5" width="5" height="5" fill="#e07a93"/></g><g transform="translate(1011,201.5) rotate(-21)"><rect x="-10.5" y="-6.75" width="21" height="13.5" fill="#f0f0f0" stroke="#222" stroke-width="1.5"/><rect x="-6.5" y="-5.95" width="3.5" height="11.9" fill="#444"/><rect x="3.0" y="-5.95" width="3.5" height="11.9" fill="#444"/><rect x="-2.5" y="-1.5" width="5" height="5" fill="#e07a93"/></g><g transform="translate(1121,280) rotate(-21)"><rect x="-10.5" y="-6.75" width="21" height="13.5" fill="#f0f0f0" stroke="#222" stroke-width="1.5"/><rect x="-6.5" y="-5.95" width="3.5" height="11.9" fill="#444"/><rect x="3.0" y="-5.95" width="3.5" height="11.9" fill="#444"/><rect x="-2.5" y="-1.5" width="5" height="5" fill="#e07a93"/></g><polygon points="471.0,315.0 509.0,304.0 519.0,309.0 490.0,319.0" fill="#dcdcdc" stroke="#111" stroke-width="1.6" stroke-linejoin="round"/><polygon points="490.0,319.0 519.0,309.0 523.0,317.0 493.0,327.0" fill="#f6f6f6" stroke="#111" stroke-width="1.6" stroke-linejoin="round"/><polygon points="759.6,210.1 793.8,200.2 802.8,204.7 776.7,213.7" fill="#dcdcdc" stroke="#111" stroke-width="1.6" stroke-linejoin="round"/><polygon points="776.7,213.7 802.8,204.7 806.4,211.9 779.4,220.9" fill="#f6f6f6" stroke="#111" stroke-width="1.6" stroke-linejoin="round"/><polygon points="893.9,163.2 926.2,153.8 934.7,158.1 910.0,166.6" fill="#dcdcdc" stroke="#111" stroke-width="1.6" stroke-linejoin="round"/><polygon points="910.0,166.6 934.7,158.1 938.1,164.8 912.6,173.3" fill="#f6f6f6" stroke="#111" stroke-width="1.6" stroke-linejoin="round"/><polygon points="349.8,365.3 376.4,357.6 383.4,361.1 363.1,368.1" fill="#dcdcdc" stroke="#111" stroke-width="1.6" stroke-linejoin="round"/><polygon points="363.1,368.1 383.4,361.1 386.2,366.7 365.2,373.7" fill="#f6f6f6" stroke="#111" stroke-width="1.6" stroke-linejoin="round"/><polygon points="616.0,263.0 654.0,252.0 664.0,257.0 635.0,267.0" fill="#dcdcdc" stroke="#111" stroke-width="1.6" stroke-linejoin="round"/><polygon points="635.0,267.0 664.0,257.0 668.0,265.0 638.0,275.0" fill="#f6f6f6" stroke="#111" stroke-width="1.6" stroke-linejoin="round"/><polygon points="581.7,642.5 617.0,629.8 621.4,638.0 586.2,650.6" fill="#bdbdbd" stroke="#111" stroke-width="1.4"/><polygon points="572.6,624.4 610.6,611.7 617.0,629.8 581.7,642.5" fill="#f6f6f6" stroke="#111" stroke-width="2" stroke-linejoin="round"/><polygon points="586.2,650.6 621.4,638.0 617.8,655.0 583.5,663.2" fill="#f6f6f6" stroke="#111" stroke-width="2" stroke-linejoin="round"/><ellipse cx="598.0" cy="662.0" rx="4.0" ry="2.5" fill="#222"/><polygon points="744.6,572.4 778.1,560.3 782.3,568.1 748.9,580.1" fill="#bdbdbd" stroke="#111" stroke-width="1.4"/><polygon points="736.0,555.2 772.1,543.1 778.1,560.3 744.6,572.4" fill="#f6f6f6" stroke="#111" stroke-width="2" stroke-linejoin="round"/><polygon points="748.9,580.1 782.3,568.1 778.9,584.2 746.3,592.0" fill="#f6f6f6" stroke="#111" stroke-width="2" stroke-linejoin="round"/><ellipse cx="760.1" cy="590.9" rx="3.8" ry="2.4" fill="#222"/><polygon points="898.5,505.2 930.3,493.8 934.3,501.2 902.6,512.5" fill="#bdbdbd" stroke="#111" stroke-width="1.4"/><polygon points="890.3,489.0 924.5,477.5 930.3,493.8 898.5,505.2" fill="#f6f6f6" stroke="#111" stroke-width="2" stroke-linejoin="round"/><polygon points="902.6,512.5 934.3,501.2 931.0,516.5 900.1,523.9" fill="#f6f6f6" stroke="#111" stroke-width="2" stroke-linejoin="round"/><ellipse cx="913.2" cy="522.8" rx="3.6" ry="2.2" fill="#222"/></g><ellipse cx="780.2" cy="424.7" rx="428.3" ry="280.1" transform="rotate(1.26 780.2 424.7)" fill="none" stroke="#000" stroke-width="4"/><path d="M229,436 C250,452 300,480 340,490 C380,499 430,499 476,499 L395,551 L340,560 Z" fill="url(#garrow)"/><polygon points="801.1,223.3 819.3,250.6 819.7,241.8 963.0,349.0 967.5,343.1 824.1,235.9 832.5,233.0" fill="#fff" stroke="#000" stroke-width="6.4" stroke-linejoin="round" paint-order="stroke"/><polygon points="820.3,375.9 838.8,403.0 839.1,394.2 915.7,450.1 920.1,444.1 843.4,388.2 851.8,385.3" fill="#fff" stroke="#000" stroke-width="6.4" stroke-linejoin="round" paint-order="stroke"/><polygon points="785.5,518.7 811.9,538.3 809.3,529.8 870.9,548.6 873.0,541.5 811.5,522.7 818.4,517.2" fill="#fff" stroke="#000" stroke-width="6.4" stroke-linejoin="round" paint-order="stroke"/><polygon points="687.2,616.1 718.0,627.5 713.1,620.1 819.8,621.5 819.8,614.1 713.2,612.7 718.3,605.5" fill="#fff" stroke="#000" stroke-width="6.4" stroke-linejoin="round" paint-order="stroke"/><g transform="" filter="url(#lbl)"><g fill="none" stroke="#fff" stroke-linecap="butt" stroke-linejoin="miter" stroke-miterlimit="10"><path d="M987.0,346.2 V323.6" stroke-width="4.7"/><path d="M996.1,346.2 V329.3" stroke-width="4.7"/><path d="M996.1,336.4 A4.8,4.8 0 0 1 1005.7,336.4 V346.2" stroke-width="4.7"/><path d="M1020.9,334.0 C1020.5,331.5 1019.6,330.6 1017.5,330.6 C1015.2,330.6 1014.2,331.9 1014.2,334.3 C1014.2,336.1 1015.7,337.3 1017.5,337.9 C1019.6,338.7 1021.0,339.5 1021.0,341.7 C1021.0,345.2 1019.8,345.8 1017.5,345.8 C1015.0,345.8 1013.7,344.3 1013.7,342.8" stroke-width="4.7"/><path d="M1029.2,329.3 V339.0 A4.8,4.8 0 0 0 1038.9,339.0 V329.3" stroke-width="4.7"/><path d="M1038.9,329.3 V346.2" stroke-width="4.7"/><path d="M1047.8,346.2 V323.6" stroke-width="4.7"/><path d="M1068.9,337.7 A6.9,6.9 0 0 0 1055.1,337.7 A6.9,6.9 0 0 0 1068.9,337.7 Z" stroke-width="4.2"/><path d="M1068.7,346.2 V330.3" stroke-width="4.7"/><path d="M1077.1,346.2 V323.6" stroke-width="4.7"/><path d="M1073.3,331.4 H1081.5" stroke-width="4.3"/><path d="M1099.1,338.2 A6.6,6.6 0 0 0 1085.9,338.2 A6.6,6.6 0 0 0 1097.5,342.5" stroke-width="4.7"/><path d="M1085.9,338.7 H1101.4" stroke-width="3.3"/><path d="M1119.2,337.7 A6.4,6.4 0 0 0 1106.4,337.7 A6.4,6.4 0 0 0 1119.2,337.7 Z" stroke-width="4.7"/><path d="M1119.6,346.2 V323.6" stroke-width="4.7"/></g></g><g transform="" filter="url(#lbl)"><g fill="none" stroke="#fff" stroke-linecap="butt" stroke-linejoin="miter" stroke-miterlimit="10"><path d="M996.1,362.2 C995.5,358.8 994.4,357.5 991.6,357.5 C988.6,357.5 987.3,359.2 987.3,362.6 C987.3,365.2 989.3,366.9 991.6,367.7 C994.4,368.8 996.3,369.9 996.3,373.1 C996.3,378.0 994.6,378.8 991.6,378.8 C988.4,378.8 986.8,376.7 986.7,374.6" stroke-width="4.7"/><path d="M1017.9,370.7 A6.4,6.4 0 0 0 1005.1,370.7 A6.4,6.4 0 0 0 1017.9,370.7 Z" stroke-width="4.7"/><path d="M1004.6,385.3 V362.3" stroke-width="4.7"/><path d="M1025.5,379.2 V362.3" stroke-width="4.7"/><path d="M1025.5,371.9 A5.3,5.3 0 0 1 1030.8,364.6" stroke-width="4.7"/><path d="M1024.2,364.6 H1029.2" stroke-width="4.7"/><path d="M1035.6,379.2 V362.3" stroke-width="4.7"/><path d="M1035.6,361.4 V356.6" stroke-width="4.7"/><path d="M1044.1,379.2 V362.3" stroke-width="4.7"/><path d="M1044.1,369.4 A4.8,4.8 0 0 1 1053.7,369.4 V379.2" stroke-width="4.7"/><path d="M1075.0,370.7 A6.4,6.4 0 0 0 1062.2,370.7 A6.4,6.4 0 0 0 1075.0,370.7 Z" stroke-width="4.7"/><path d="M1075.5,379.2 V362.3" stroke-width="4.7"/><path d="M1075.5,378.2 V376.3 A6.6,6.6 0 0 1 1062.2,376.3" stroke-width="4.7"/><path d="M1107.6,361.6 A9.4,9.4 0 1 0 1107.6,374.2" stroke-width="4.7"/><path d="M1116.2,379.2 V356.6" stroke-width="4.7"/><path d="M1124.3,379.2 V362.3" stroke-width="4.7"/><path d="M1124.3,361.4 V356.6" stroke-width="4.7"/><path d="M1146.1,370.7 A6.4,6.4 0 0 0 1133.3,370.7 A6.4,6.4 0 0 0 1146.1,370.7 Z" stroke-width="4.7"/><path d="M1132.8,385.3 V362.3" stroke-width="4.7"/><path d="M1159.5,367.0 C1159.1,364.5 1158.2,363.6 1156.1,363.6 C1153.8,363.6 1152.8,364.9 1152.8,367.3 C1152.8,369.1 1154.3,370.3 1156.1,370.9 C1158.2,371.7 1159.6,372.5 1159.6,374.7 C1159.6,378.2 1158.3,378.8 1156.1,378.8 C1153.5,378.8 1152.3,377.3 1152.3,375.8" stroke-width="4.7"/></g></g><g transform="" filter="url(#lbl)"><g fill="none" stroke="#fff" stroke-linecap="butt" stroke-linejoin="miter" stroke-miterlimit="10"><path d="M945.8,440.0 A5.0,5.0 0 0 0 935.9,440.0 A5.0,5.0 0 0 0 945.8,440.0 Z" stroke-width="4.7"/><path d="M944.9,431.2 A4.1,4.1 0 0 0 936.8,431.2 A4.1,4.1 0 0 0 944.9,431.2 Z" stroke-width="4.7"/><path d="M952.0,439.2 H959.4" stroke-width="4.7"/><path d="M981.2,430.0 A9.4,9.4 0 1 0 983.4,436.0" stroke-width="4.7"/><path d="M975.9,438.4 H985.7" stroke-width="4.7"/><path d="M1004.2,438.8 A6.9,6.9 0 0 0 990.4,438.8 A6.9,6.9 0 0 0 1004.2,438.8 Z" stroke-width="4.2"/><path d="M1004.0,447.3 V431.4" stroke-width="4.7"/><path d="M1013.2,430.4 V440.1 A4.8,4.8 0 0 0 1022.8,440.1 V430.4" stroke-width="4.7"/><path d="M1022.8,430.4 V447.3" stroke-width="4.7"/><path d="M1044.9,438.8 A6.4,6.4 0 0 0 1032.1,438.8 A6.4,6.4 0 0 0 1044.9,438.8 Z" stroke-width="4.7"/><path d="M1045.4,447.3 V430.4" stroke-width="4.7"/><path d="M1045.4,446.3 V444.4 A6.6,6.6 0 0 1 1032.1,444.4" stroke-width="4.7"/><path d="M1066.6,439.3 A6.6,6.6 0 0 0 1053.4,439.3 A6.6,6.6 0 0 0 1065.1,443.6" stroke-width="4.7"/><path d="M1053.4,439.8 H1069.0" stroke-width="3.3"/></g></g><g transform="" filter="url(#lbl)"><g fill="none" stroke="#fff" stroke-linecap="butt" stroke-linejoin="miter" stroke-miterlimit="10"><path d="M945.0,463.2 C944.4,459.8 943.3,458.5 940.5,458.5 C937.5,458.5 936.2,460.2 936.2,463.6 C936.2,466.2 938.2,467.9 940.5,468.7 C943.3,469.8 945.2,470.9 945.2,474.1 C945.2,479.0 943.5,479.8 940.5,479.8 C937.3,479.8 935.7,477.7 935.6,475.6" stroke-width="4.7"/><path d="M953.1,480.2 V463.3" stroke-width="4.7"/><path d="M953.1,462.4 V457.6" stroke-width="4.7"/><path d="M961.6,480.2 V463.3" stroke-width="4.7"/><path d="M961.6,470.4 A4.8,4.8 0 0 1 971.2,470.4 V480.2" stroke-width="4.7"/><path d="M980.7,463.3 V473.0 A4.8,4.8 0 0 0 990.3,473.0 V463.3" stroke-width="4.7"/><path d="M990.3,463.3 V480.2" stroke-width="4.7"/><path d="M1011.6,471.7 A6.4,6.4 0 0 0 998.8,471.7 A6.4,6.4 0 0 0 1011.6,471.7 Z" stroke-width="4.7"/><path d="M1020.1,463.3 V473.0 A4.8,4.8 0 0 0 1029.7,473.0 V463.3" stroke-width="4.7"/><path d="M1029.7,463.3 V480.2" stroke-width="4.7"/><path d="M1044.9,468.0 C1044.5,465.5 1043.6,464.6 1041.5,464.6 C1039.2,464.6 1038.2,465.9 1038.2,468.3 C1038.2,470.1 1039.7,471.3 1041.5,471.9 C1043.6,472.7 1045.1,473.5 1045.1,475.7 C1045.1,479.2 1043.8,479.8 1041.5,479.8 C1039.0,479.8 1037.8,478.3 1037.7,476.8" stroke-width="4.7"/><path d="M1070.7,463.2 C1070.1,459.8 1069.0,458.5 1066.2,458.5 C1063.2,458.5 1061.9,460.2 1061.9,463.6 C1061.9,466.2 1063.9,467.9 1066.2,468.7 C1069.0,469.8 1070.8,470.9 1070.8,474.1 C1070.8,479.0 1069.2,479.8 1066.2,479.8 C1062.9,479.8 1061.4,477.7 1061.3,475.6" stroke-width="4.7"/><path d="M1092.5,471.7 A6.4,6.4 0 0 0 1079.7,471.7 A6.4,6.4 0 0 0 1092.5,471.7 Z" stroke-width="4.7"/><path d="M1079.2,486.3 V463.3" stroke-width="4.7"/><path d="M1100.1,480.2 V463.3" stroke-width="4.7"/><path d="M1100.1,472.9 A5.3,5.3 0 0 1 1105.4,465.6" stroke-width="4.7"/><path d="M1098.8,465.6 H1103.8" stroke-width="4.7"/><path d="M1110.2,480.2 V463.3" stroke-width="4.7"/><path d="M1110.2,462.4 V457.6" stroke-width="4.7"/><path d="M1118.7,480.2 V463.3" stroke-width="4.7"/><path d="M1118.7,470.4 A4.8,4.8 0 0 1 1128.3,470.4 V480.2" stroke-width="4.7"/><path d="M1149.7,471.7 A6.4,6.4 0 0 0 1136.9,471.7 A6.4,6.4 0 0 0 1149.7,471.7 Z" stroke-width="4.7"/><path d="M1150.1,480.2 V463.3" stroke-width="4.7"/><path d="M1150.1,479.2 V477.3 A6.6,6.6 0 0 1 1136.9,477.3" stroke-width="4.7"/><path d="M1164.5,468.0 C1164.1,465.5 1163.2,464.6 1161.1,464.6 C1158.8,464.6 1157.8,465.9 1157.8,468.3 C1157.8,470.1 1159.3,471.3 1161.1,471.9 C1163.2,472.7 1164.6,473.5 1164.6,475.7 C1164.6,479.2 1163.3,479.8 1161.1,479.8 C1158.5,479.8 1157.3,478.3 1157.3,476.8" stroke-width="4.7"/></g></g><g transform="" filter="url(#lbl)"><g fill="none" stroke="#fff" stroke-linecap="butt" stroke-linejoin="miter" stroke-miterlimit="10"><path d="M898.0,536.7 C897.4,533.3 896.3,532.0 893.5,532.0 C890.5,532.0 889.2,533.7 889.2,537.1 C889.2,539.7 891.2,541.4 893.5,542.2 C896.3,543.3 898.2,544.4 898.2,547.6 C898.2,552.5 896.5,553.3 893.5,553.3 C890.3,553.3 888.7,551.2 888.6,549.1" stroke-width="4.7"/><path d="M906.4,553.7 V531.1" stroke-width="4.7"/><path d="M902.6,538.9 H910.8" stroke-width="4.3"/><path d="M928.3,545.7 A6.6,6.6 0 0 0 915.1,545.7 A6.6,6.6 0 0 0 926.8,550.0" stroke-width="4.7"/><path d="M915.1,546.2 H930.7" stroke-width="3.3"/><path d="M948.5,545.7 A6.6,6.6 0 0 0 935.3,545.7 A6.6,6.6 0 0 0 947.0,550.0" stroke-width="4.7"/><path d="M935.3,546.2 H950.9" stroke-width="3.3"/><path d="M956.2,553.7 V531.1" stroke-width="4.7"/><path d="M981.9,536.7 C981.4,533.3 980.3,532.0 977.5,532.0 C974.5,532.0 973.2,533.7 973.2,537.1 C973.2,539.7 975.1,541.4 977.5,542.2 C980.3,543.3 982.1,544.4 982.1,547.6 C982.1,552.5 980.4,553.3 977.5,553.3 C974.2,553.3 972.6,551.2 972.5,549.1" stroke-width="4.7"/><path d="M990.4,553.7 V531.1" stroke-width="4.7"/><path d="M986.5,538.9 H994.8" stroke-width="4.3"/><path d="M1000.2,553.7 V536.8" stroke-width="4.7"/><path d="M1000.2,546.4 A5.3,5.3 0 0 1 1005.5,539.1" stroke-width="4.7"/><path d="M998.9,539.1 H1003.9" stroke-width="4.7"/><path d="M1022.7,545.7 A6.6,6.6 0 0 0 1009.5,545.7 A6.6,6.6 0 0 0 1021.1,550.0" stroke-width="4.7"/><path d="M1009.5,546.2 H1025.1" stroke-width="3.3"/><path d="M1030.8,553.7 V531.1" stroke-width="4.7"/><path d="M1027.0,538.9 H1035.2" stroke-width="4.3"/><path d="M1051.4,541.0 A6.6,6.6 0 1 0 1051.4,549.5" stroke-width="4.7"/><path d="M1060.9,553.7 V531.1" stroke-width="4.7"/><path d="M1060.9,543.9 A4.8,4.8 0 0 1 1070.5,543.9 V553.7" stroke-width="4.7"/><path d="M1091.9,545.7 A6.6,6.6 0 0 0 1078.7,545.7 A6.6,6.6 0 0 0 1090.3,550.0" stroke-width="4.7"/><path d="M1078.7,546.2 H1094.2" stroke-width="3.3"/><path d="M1100.1,553.7 V536.8" stroke-width="4.7"/><path d="M1100.1,546.4 A5.3,5.3 0 0 1 1105.3,539.1" stroke-width="4.7"/><path d="M1098.7,539.1 H1103.7" stroke-width="4.7"/><path d="M1116.3,541.5 C1115.9,539.0 1115.0,538.1 1112.9,538.1 C1110.6,538.1 1109.6,539.4 1109.6,541.8 C1109.6,543.6 1111.1,544.8 1112.9,545.4 C1115.0,546.2 1116.4,547.0 1116.4,549.2 C1116.4,552.7 1115.1,553.3 1112.9,553.3 C1110.3,553.3 1109.1,551.8 1109.1,550.3" stroke-width="4.7"/></g></g><g transform="" filter="url(#lbl)"><g fill="none" stroke="#fff" stroke-linecap="butt" stroke-linejoin="miter" stroke-miterlimit="10"><path d="M836.6,600.5 H848.8" stroke-width="4.7"/><path d="M842.7,620.7 V598.1" stroke-width="4.7"/><path d="M854.0,603.8 V613.5 A4.8,4.8 0 0 0 863.6,613.5 V603.8" stroke-width="4.7"/><path d="M863.6,603.8 V620.7" stroke-width="4.7"/><path d="M886.2,612.2 A6.4,6.4 0 0 0 873.4,612.2 A6.4,6.4 0 0 0 886.2,612.2 Z" stroke-width="4.7"/><path d="M872.9,620.7 V598.1" stroke-width="4.7"/><path d="M893.6,603.8 V613.5 A4.8,4.8 0 0 0 903.2,613.5 V603.8" stroke-width="4.7"/><path d="M903.2,603.8 V620.7" stroke-width="4.7"/><path d="M912.0,620.7 V598.1" stroke-width="4.7"/><path d="M932.9,612.2 A6.9,6.9 0 0 0 919.1,612.2 A6.9,6.9 0 0 0 932.9,612.2 Z" stroke-width="4.2"/><path d="M932.7,620.7 V604.8" stroke-width="4.7"/><path d="M941.0,620.7 V603.8" stroke-width="4.7"/><path d="M941.0,613.4 A5.3,5.3 0 0 1 946.3,606.1" stroke-width="4.7"/><path d="M939.7,606.1 H944.7" stroke-width="4.7"/><path d="M968.5,603.7 C968.0,600.3 966.8,599.0 964.1,599.0 C961.1,599.0 959.8,600.7 959.8,604.1 C959.8,606.7 961.7,608.4 964.1,609.2 C966.8,610.3 968.7,611.4 968.7,614.6 C968.7,619.5 967.0,620.3 964.1,620.3 C960.8,620.3 959.2,618.2 959.1,616.1" stroke-width="4.7"/><path d="M976.8,620.7 V598.1" stroke-width="4.7"/><path d="M973.0,605.9 H981.2" stroke-width="4.3"/><path d="M998.6,612.7 A6.6,6.6 0 0 0 985.4,612.7 A6.6,6.6 0 0 0 997.1,617.0" stroke-width="4.7"/><path d="M985.4,613.2 H1001.0" stroke-width="3.3"/><path d="M1018.7,612.7 A6.6,6.6 0 0 0 1005.5,612.7 A6.6,6.6 0 0 0 1017.2,617.0" stroke-width="4.7"/><path d="M1005.5,613.2 H1021.1" stroke-width="3.3"/><path d="M1026.3,620.7 V598.1" stroke-width="4.7"/></g></g><g transform="" filter="url(#lbl)"><g fill="none" stroke="#fff" stroke-linecap="butt" stroke-linejoin="miter" stroke-miterlimit="10"><path d="M839.0,653.7 V631.1" stroke-width="4.7"/><path d="M836.6,633.4 H848.5" stroke-width="4.5"/><path d="M836.6,642.0 H847.5" stroke-width="4.0"/><path d="M854.0,653.7 V636.8" stroke-width="4.7"/><path d="M854.0,646.4 A5.3,5.3 0 0 1 859.3,639.1" stroke-width="4.7"/><path d="M852.7,639.1 H857.7" stroke-width="4.7"/><path d="M876.8,645.2 A6.9,6.9 0 0 0 863.0,645.2 A6.9,6.9 0 0 0 876.8,645.2 Z" stroke-width="4.2"/><path d="M876.6,653.7 V637.8" stroke-width="4.7"/><path d="M884.8,653.7 V636.8" stroke-width="4.7"/><path d="M884.8,644.1 A5.0,5.0 0 0 1 894.8,644.1 V653.7" stroke-width="4.7"/><path d="M894.8,644.1 A5.0,5.0 0 0 1 904.8,644.1 V653.7" stroke-width="4.7"/><path d="M925.9,645.7 A6.6,6.6 0 0 0 912.7,645.7 A6.6,6.6 0 0 0 924.4,650.0" stroke-width="4.7"/><path d="M912.7,646.2 H928.3" stroke-width="3.3"/></g></g><g transform="translate(50,224.16) rotate(-4.7)" filter="url(#ttl)"><g fill="none" stroke="#fff" stroke-linecap="butt" stroke-linejoin="miter" stroke-miterlimit="10"><path d="M56.8,-75.6 C54.1,-88.8 48.9,-93.8 35.7,-93.8 C21.6,-93.8 15.4,-87.2 15.4,-74.0 C15.4,-64.0 24.7,-57.4 35.7,-54.1 C48.9,-50.0 57.7,-45.9 57.7,-33.5 C57.7,-14.6 49.7,-11.2 35.7,-11.2 C20.3,-11.2 12.8,-19.5 12.3,-27.8" stroke-width="17.5"/><path d="M91.1,-4.5 V-101.0" stroke-width="17.5"/><path d="M72.4,-71.7 H108.6" stroke-width="16.6"/><path d="M184.6,-41.8 A29.5,29.5 0 0 0 125.6,-41.8 A29.5,29.5 0 0 0 180.1,-26.1" stroke-width="17.5"/><path d="M125.6,-39.8 H193.4" stroke-width="13.7"/><path d="M270.0,-41.8 A29.5,29.5 0 0 0 211.0,-41.8 A29.5,29.5 0 0 0 265.5,-26.1" stroke-width="17.5"/><path d="M211.0,-39.8 H278.8" stroke-width="13.7"/><path d="M299.8,-4.5 V-101.0" stroke-width="17.5"/><path d="M372.1,-4.5 V-101.0" stroke-width="17.5"/><path d="M363.4,-92.7 H411.9" stroke-width="16.6"/><path d="M363.4,-59.5 H409.4" stroke-width="14.9"/><path d="M435.6,-4.5 V-80.0" stroke-width="17.5"/><path d="M435.6,-47.0 A22.2,22.2 0 0 1 457.9,-71.2" stroke-width="17.5"/><path d="M427.9,-71.2 H451.2" stroke-width="17.5"/><path d="M535.7,-42.2 A30.6,30.6 0 0 0 474.6,-42.2 A30.6,30.6 0 0 0 535.7,-42.2 Z" stroke-width="15.4"/><path d="M536.1,-4.5 V-79.0" stroke-width="17.5"/><path d="M562.6,-4.5 V-80.0" stroke-width="17.5"/><path d="M562.6,-46.6 A24.6,24.6 0 0 1 611.9,-46.6 V-4.5" stroke-width="17.5"/><path d="M611.9,-46.6 A24.6,24.6 0 0 1 661.1,-46.6 V-4.5" stroke-width="17.5"/><path d="M747.8,-41.8 A29.5,29.5 0 0 0 688.8,-41.8 A29.5,29.5 0 0 0 743.3,-26.1" stroke-width="17.5"/><path d="M688.8,-39.8 H756.6" stroke-width="13.7"/></g></g><g transform="translate(340,297.28) rotate(-4.87)" filter="url(#ttl2)"><g fill="none" stroke="#fff" stroke-linecap="butt" stroke-linejoin="miter" stroke-miterlimit="10"><path d="M62.4,-57.9 C60.2,-67.8 55.8,-71.5 44.9,-71.5 C33.3,-71.5 28.2,-66.5 28.2,-56.6 C28.2,-49.2 35.8,-44.2 44.9,-41.7 C55.8,-38.6 63.1,-35.5 63.1,-26.2 C63.1,-12.0 56.5,-9.5 44.9,-9.5 C32.2,-9.5 26.0,-15.7 25.6,-21.9" stroke-width="15.0"/><path d="M80.8,-61.0 L99.9,-6.0" stroke-width="15.0"/><path d="M122.7,-61.0 L87.1,13.0" stroke-width="15.0"/><path d="M164.0,-44.6 C162.4,-51.8 159.1,-54.5 150.8,-54.5 C142.0,-54.5 138.1,-50.9 138.1,-43.7 C138.1,-38.3 143.9,-34.7 150.8,-32.9 C159.1,-30.7 164.6,-28.4 164.6,-21.6 C164.6,-11.3 159.6,-9.5 150.8,-9.5 C141.1,-9.5 136.4,-14.0 136.2,-18.5" stroke-width="15.0"/><path d="M192.7,-4.0 V-77.5" stroke-width="15.0"/><path d="M174.5,-53.9 H203.1" stroke-width="14.2"/><path d="M260.1,-32.0 A21.5,21.5 0 0 0 217.1,-32.0 A21.5,21.5 0 0 0 256.8,-20.6" stroke-width="15.0"/><path d="M217.1,-30.0 H267.6" stroke-width="11.7"/><path d="M282.4,-4.0 V-61.0" stroke-width="15.0"/><path d="M282.4,-35.1 A18.4,18.4 0 0 1 319.1,-35.1 V-4.0" stroke-width="15.0"/><path d="M319.1,-35.1 A18.4,18.4 0 0 1 355.9,-35.1 V-4.0" stroke-width="15.0"/></g></g><g transform="translate(0,106.86) rotate(-5) skewX(-10)" filter="url(#ttl3)"><g fill="none" stroke="#fff" stroke-linecap="butt" stroke-linejoin="miter" stroke-miterlimit="10"><path d="M15.5,-3.0 V-59.0" stroke-width="6.8"/><path d="M12.1,-55.6 H41.5" stroke-width="6.8"/><path d="M12.1,-31.0 H39.1" stroke-width="6.8"/><path d="M12.1,-6.4 H41.5" stroke-width="6.8"/><path d="M50.1,-45.5 L80.0,-3.0" stroke-width="6.8"/><path d="M80.0,-45.5 L50.1,-3.0" stroke-width="6.8"/><path d="M121.4,-36.0 A18.4,18.4 0 1 0 121.4,-12.5" stroke-width="6.8"/><path d="M139.9,-3.0 V-59.0" stroke-width="6.8"/><path d="M153.4,-45.5 V-19.9 A13.5,13.5 0 0 0 180.5,-19.9 V-45.5" stroke-width="6.8"/><path d="M180.5,-45.5 V-3.0" stroke-width="6.8"/><path d="M212.6,-34.6 C211.6,-40.8 209.8,-43.1 205.1,-43.1 C200.0,-43.1 197.8,-40.0 197.8,-33.8 C197.8,-29.2 201.1,-26.1 205.1,-24.5 C209.8,-22.6 212.9,-20.7 212.9,-14.8 C212.9,-5.9 210.1,-4.4 205.1,-4.4 C199.6,-4.4 196.9,-8.3 196.7,-12.1" stroke-width="6.8"/><path d="M229.7,-3.0 V-45.5" stroke-width="6.8"/><path d="M229.7,-50.5 V-56.0" stroke-width="6.8"/><path d="M239.8,-45.5 L255.5,-3.0 L271.2,-45.5" stroke-width="6.8"/><path d="M316.5,-23.8 A18.4,18.4 0 0 0 279.8,-23.8 A18.4,18.4 0 0 0 313.7,-14.0" stroke-width="6.8"/><path d="M279.8,-21.8 H319.9" stroke-width="5.3"/></g></g>
</svg></body></html>
